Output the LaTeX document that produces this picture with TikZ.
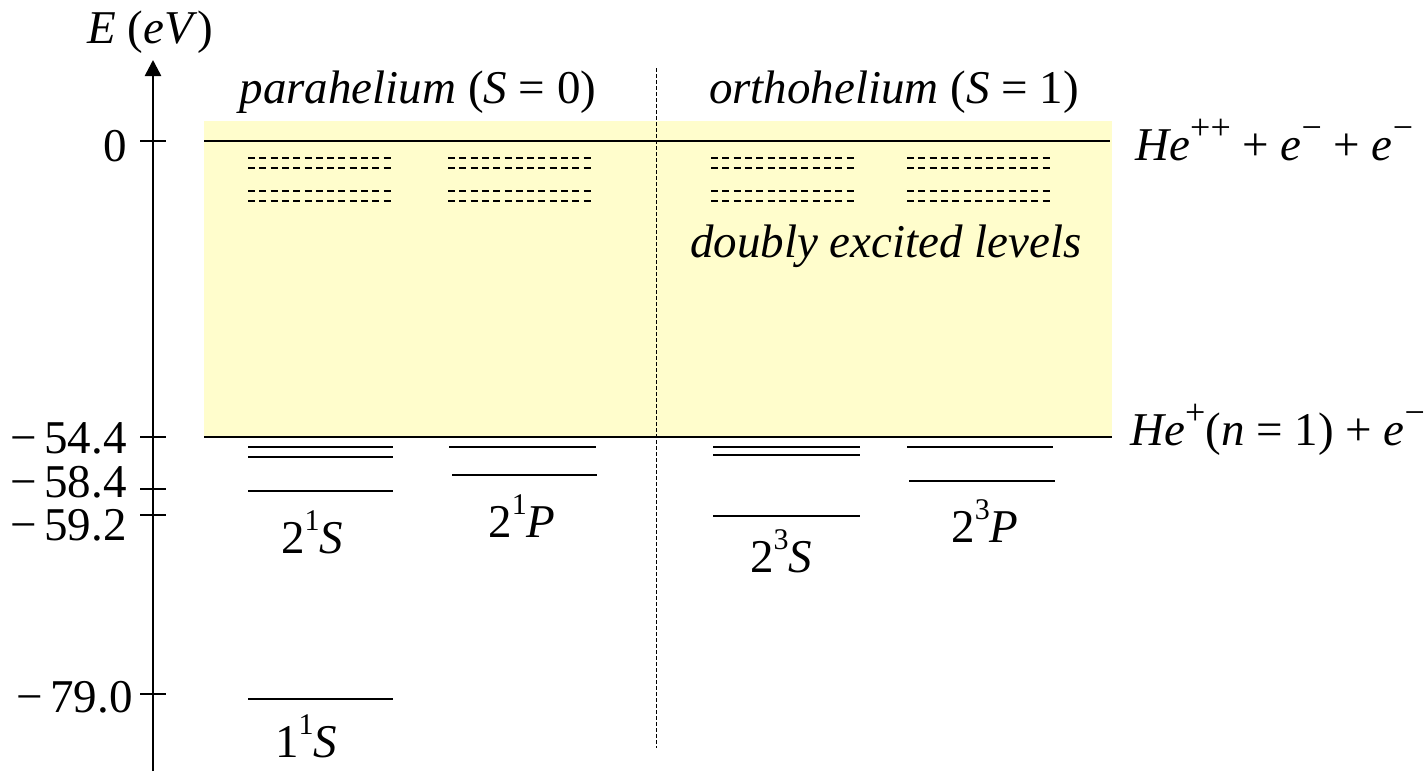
\documentclass[tikz,border=0pt]{standalone}
\usepackage{fontspec}
\setmainfont{Liberation Serif}
\usetikzlibrary{arrows.meta}
\newcommand\hsup[1]{\raisebox{0.47em}{\fontsize{15}{15}\selectfont #1}}
\newcommand\csup[1]{\raisebox{0.43em}{\fontsize{18}{18}\selectfont #1}}
\definecolor{bandyellow}{RGB}{255,253,204}
\begin{document}
\begin{tikzpicture}[x=0.5pt,y=-0.5pt,
  lbl/.style={font=\fontsize{23.5}{28}\selectfont, inner sep=0pt},
  level/.style={line width=1pt},
  dlevel/.style={line width=1pt, dash pattern=on 3.5pt off 2.15pt},
  tick/.style={line width=1pt},
  axis/.style={line width=1.3pt, -{Triangle[length=8pt,width=8pt]}},
  sep/.style={line width=0.5pt, dash pattern=on 2pt off 1pt}]
\useasboundingbox (0,0) rectangle (1424,771);
% band
\fill[bandyellow] (204,121) rectangle (1112,437);
\draw[level] (204,141) -- (1110,141);
\draw[level] (204,437) -- (1112,437);
% separator
\draw[sep] (656,68) -- (656,748);
% axis
\draw[axis] (153,771) -- (153,60);
\foreach \y in {141,437,489,515,694} \draw[tick] (140,\y) -- (166,\y);
\node[lbl, anchor=base] (ylab) at (150,43) {\textit{E} (\textit{eV})};
\node[lbl, anchor=base east] (t0) at (127,161) {0};
\node[lbl, anchor=base east] (t1) at (127,453) {−\,54.4};
\node[lbl, anchor=base east] (t2) at (127,497) {−\,58.4};
\node[lbl, anchor=base east] (t3) at (127,540) {−\,59.2};
\node[lbl, anchor=base east] (t4) at (133,712) {−\,79.0};
% titles
\node[lbl, anchor=base] (para) at (418,103) {\textit{parahelium} (\textit{S} = 0)};
\node[lbl, anchor=base] (ortho) at (894,103) {\textit{orthohelium} (\textit{S} = 1)};
\node[lbl, anchor=base] (dbl) at (886,257) {\textit{doubly excited levels}};
\node[lbl, anchor=base west] (ion2) at (1135,160) {\textit{He}\csup{++} + \textit{e}\csup{−} + \textit{e}\csup{−}};
\node[lbl, anchor=base west] (ion1) at (1130,445) {\textit{He}\csup{+}(\textit{n} = 1) + \textit{e}\csup{−}};
% doubly excited dashed levels
\foreach \xa in {248,448,711,907} {
  \foreach \y in {158,168,191,201} \draw[dlevel] (\xa,\y) -- ++(146,0);
}
% parahelium S
\draw[level] (248,447) -- (393,447);
\draw[level] (248,457) -- (393,457);
\draw[level] (248,491) -- (393,491);
\draw[level] (248,699) -- (393,699);
% parahelium P
\draw[level] (449,447) -- (596,447);
\draw[level] (452,475) -- (597,475);
% orthohelium S
\draw[level] (713,447) -- (860,447);
\draw[level] (713,455) -- (860,455);
\draw[level] (713,516) -- (860,516);
% orthohelium P
\draw[level] (907,447) -- (1053,447);
\draw[level] (909,481) -- (1055,481);
% level labels
\node[lbl, anchor=base] (s21) at (312,553) {2\hsup{1}\textit{S}};
\node[lbl, anchor=base] (p21) at (522,537) {2\hsup{1}\textit{P}};
\node[lbl, anchor=base] (s23) at (781,572) {2\hsup{3}\textit{S}};
\node[lbl, anchor=base] (p23) at (985,542) {2\hsup{3}\textit{P}};
\node[lbl, anchor=base] (s11) at (306,757) {1\hsup{1}\textit{S}};
\end{tikzpicture}
\end{document}
